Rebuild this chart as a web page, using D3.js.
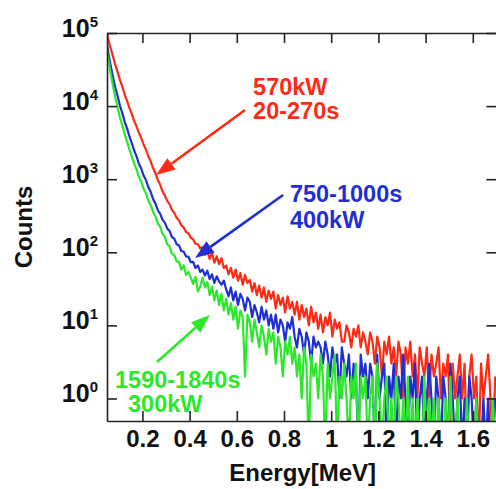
<!DOCTYPE html>
<html><head><meta charset="utf-8">
<script src="https://cdn.jsdelivr.net/npm/d3@7"></script>
<style>html,body{margin:0;padding:0;background:#fff}</style>
</head><body>
<svg id="c" width="496" height="489"></svg>
<script>
// ---- data ----
const binStart = 0.05, binWidth = 0.01;   // energy bins (MeV)
const redCounts = [
 83000,62400,48300,36900,29100,22700,18400,14300,11800,9480,
 7810,6250,5300,4320,3660,2990,2540,2060,1760,1420,
 1215,985,846,680,601,505,455,381,346,296,
 275,233,219,190,182,158,151,131,129,113,
 118,92,104,81,99,72,88,69,83,61,
 66,50,61,45,58,41,52,36,49,38,
 42,29,38,26,35,24,33,21,30,23,
 29,17,26,19,24,15,25,17,21,14,
 21,12,19,13,17,10,18,11,15,9,
 14,8,13,10,15,7,12,9,11,6,
 6,10,8,5,9,7,10,5,8,6,
 4,8,6,3,7,5,2,6,4,7,
 3,5,2,6,4,1,5,3,6,2,
 4,1,5,3,2,5,1,4,2,3,
 5,1,3,2,4,0,3,1,2,4,
 1,3,0,2,4,1,2,0,3,1,
 2,4,1,0,2];
const blueCounts = [
 55000,36100,25300,18000,13600,10100,8020,6090,4950,3840,
 3120,2470,2070,1630,1400,1120,972,781,672,538,
 466,379,339,280,255,212,196,162,154,129,
 124,104,102,88,87,73,74,61,66,54,
 58,48,56,43,50,38,47,40,36,41,
 31,25,33,22,29,19,27,23,16,24,
 21,13,19,15,11,18,12,16,10,14,
 9,14,8,12,10,6,11,9,13,7,
 5,9,7,4,8,6,3,7,5,6,
 5,3,6,4,2,5,3,4,1,5,
 3,2,4,1,3,2,0,4,2,3,
 1,3,2,0,4,1,2,3,0,2,
 1,3,0,2,1,4,1,0,2,1,
 3,0,1,2,0,1,3,1,0,2,
 1,0,2,1,0,3,1,0,1,2,
 0,1,0,2,1,0,1,0,0,1,
 0,1,0,0,1];
const greenCounts = [
 45700,28500,19300,13000,9620,6990,5420,4110,3280,2530,
 2060,1630,1370,1080,925,741,640,512,444,355,
 309,249,224,179,163,128,121,96,92,75,
 74,58,66,49,54,45,37,46,29,34,
 45,33,39,26,34,22,30,19,27,16,
 23,14,20,12,18,9,16,13,2,14,
 11,6,12,8,5,10,7,4,9,6,
 8,3,7,5,2,6,4,7,3,5,
 2,4,1,5,3,0,4,2,3,1,
 4,2,0,3,1,2,4,0,2,1,
 3,1,0,2,1,3,0,2,1,2,
 0,1,2,0,3,1,0,1,2,0,
 1,0,2,1,0,1,0,2,0,1,
 0,1,0,0,2,0,1,0,1,0,
 1,0,0,1,0,2,0,0,1,0,
 0,0,1,0,0,0,1,0,0,0,
 0,0,0,1,0];
const xTickValues = [0.2,0.4,0.6,0.8,1.0,1.2,1.4,1.6];
const xTickLabels = ["0.2","0.4","0.6","0.8","1","1.2","1.4","1.6"];
const yTickValues = [1,10,100,1000,10000,100000];
const yTickExponents = ["0","1","2","3","4","5"];
const redLabel = ["570kW","20-270s"];
const blueLabel = ["750-1000s","400kW"];
const greenLabel = ["1590-1840s","300kW"];
const xTitle = "Energy[MeV]", yTitle = "Counts";

// ---- layout ----
const L = 107, R = 496.4, T = 33, B = 421;
const COL = {red:"#ff2a14", blue:"#1f2fd2", green:"#2be82b"};
const FONT = "'Liberation Sans', Arial, sans-serif";
const svg = d3.select("#c");
const x = d3.scaleLinear().domain([0.05,1.7]).range([L,R]);
const y = d3.scaleLog().domain([Math.pow(10,-0.308),1e5]).range([B,T]);

svg.append("defs").append("clipPath").attr("id","plot")
  .append("rect").attr("x",L).attr("y",T).attr("width",R-L).attr("height",B-T);

function pts(arr){
  const p = arr.map((v,i)=>[binStart+(i+0.5)*binWidth, v]);
  p.unshift([binStart, arr[0]*1.25]);
  return p;
}
const line = d3.line().curve(d3.curveLinear)
  .x(d=>x(d[0])).y(d=>y(d[1]>0?d[1]:0.2));
const g = svg.append("g").attr("clip-path","url(#plot)");
[[redCounts,COL.red],[blueCounts,COL.blue],[greenCounts,COL.green]].forEach(([a,c])=>{
  g.append("path").attr("d",line(pts(a))).attr("fill","none")
   .attr("stroke",c).attr("stroke-width",2.2).attr("stroke-linejoin","round");
});

// ---- axes ----
const axCol = "#222";
function style(sel){
  sel.select(".domain").attr("stroke",axCol).attr("stroke-width",1.6);
  sel.selectAll(".tick line").attr("stroke",axCol).attr("stroke-width",1.6);
}
const bx = svg.append("g").attr("transform",`translate(0,${B})`)
  .call(d3.axisBottom(x).tickValues(xTickValues).tickSizeInner(-10).tickSizeOuter(0)
    .tickPadding(9).tickFormat((d,i)=>xTickLabels[i]));
style(bx);
bx.selectAll("text").attr("font-family",FONT).attr("font-weight","bold")
  .attr("font-size",24).attr("fill","#111").attr("y",26).attr("dy",null);
const tx = svg.append("g").attr("transform",`translate(0,${T})`)
  .call(d3.axisTop(x).tickValues(xTickValues).tickSizeInner(-10).tickSizeOuter(0).tickFormat(""));
style(tx);
const ly = svg.append("g").attr("transform",`translate(${L},0)`)
  .call(d3.axisLeft(y).tickValues(yTickValues).tickSizeInner(-10).tickSizeOuter(0).tickFormat(""));
style(ly);
const ry = svg.append("g").attr("transform",`translate(${R},0)`)
  .call(d3.axisRight(y).tickValues(yTickValues).tickSizeInner(-10).tickSizeOuter(0).tickFormat(""));
style(ry);

yTickValues.forEach((v,i)=>{
  const t = svg.append("text").attr("x",98).attr("y",y(v)+4)
    .attr("text-anchor","end").attr("font-family",FONT).attr("font-weight","bold")
    .attr("fill","#111").attr("font-size",25);
  t.append("tspan").text("10");
  t.append("tspan").attr("dy",-10).attr("font-size",15).text(yTickExponents[i]);
});

svg.append("text").attr("x",(L+R)/2+1).attr("y",481).attr("text-anchor","middle")
  .attr("font-family",FONT).attr("font-weight","bold").attr("font-size",24).attr("fill","#111")
  .text(xTitle);
svg.append("text").attr("transform","translate(32,227) rotate(-90)").attr("text-anchor","middle")
  .attr("font-family",FONT).attr("font-weight","bold").attr("font-size",24).attr("fill","#111")
  .text(yTitle);

// ---- annotations ----
function arrow(e0,c0,e1,c1,col){
  const x0=x(e0),y0=y(c0),x1=x(e1),y1=y(c1);
  const ang=Math.atan2(y1-y0,x1-x0), hl=19, hw=7;
  const bxp=x1-hl*Math.cos(ang), byp=y1-hl*Math.sin(ang);
  svg.append("line").attr("x1",x0).attr("y1",y0).attr("x2",bxp).attr("y2",byp)
    .attr("stroke",col).attr("stroke-width",2.6);
  svg.append("path").attr("fill",col).attr("d",
    `M${x1},${y1}L${bxp+hw*Math.sin(ang)},${byp-hw*Math.cos(ang)}L${bxp-hw*Math.sin(ang)},${byp+hw*Math.cos(ang)}Z`);
}
function label(lines,e,cs,col){
  lines.forEach((s,i)=>svg.append("text").attr("x",x(e[i])).attr("y",y(cs[i]))
    .attr("font-family",FONT).attr("font-weight","bold").attr("font-size",23.5)
    .attr("fill",col).text(s));
}
arrow(0.635,8850,0.258,1140,COL.red);
arrow(0.796,608,0.423,83.6,COL.blue);
arrow(0.262,3.16,0.486,13.9,COL.green);
label(redLabel,[0.669,0.669],[14190,6660],COL.red);
label(blueLabel,[0.825,0.825],[480,218],COL.blue);
label(greenLabel,[0.084,0.139],[1.39,0.653],COL.green);
</script>
</body></html>
